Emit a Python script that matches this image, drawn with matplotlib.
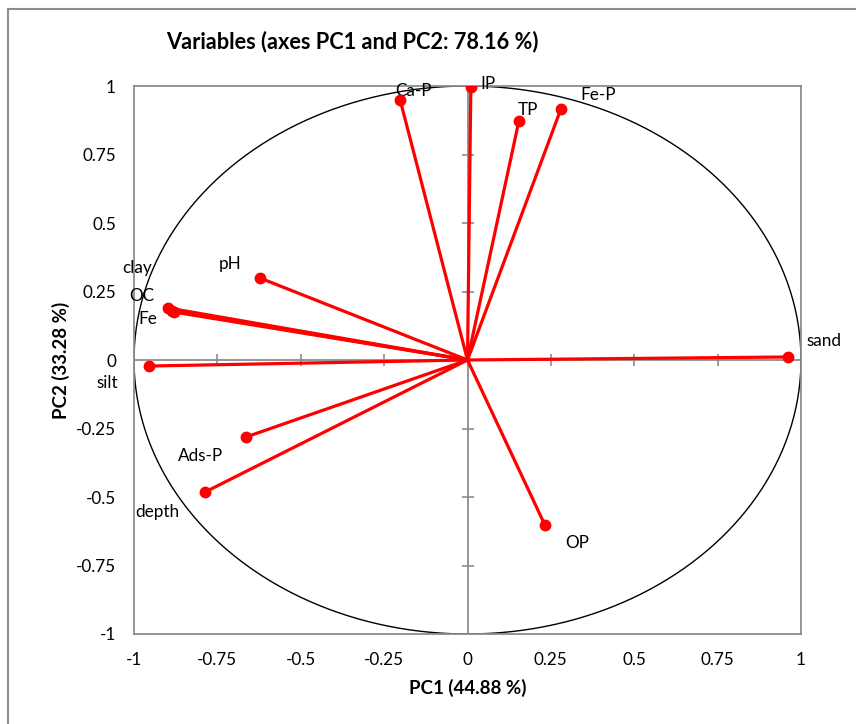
#!/usr/bin/env python3

import numpy as np
import matplotlib.pyplot as plt
from matplotlib.patches import Rectangle

plt.rcParams['font.family'] = ['Lato', 'DejaVu Sans']

names = ['sand', 'silt', 'clay', 'OC', 'Fe', 'pH', 'Ads-P', 'depth',
         'Ca-P', 'IP', 'TP', 'Fe-P', 'OP']
pc1 = [0.961, -0.955, -0.898, -0.885, -0.880, -0.622, -0.664, -0.787,
       -0.202, 0.010, 0.154, 0.280, 0.232]
pc2 = [0.011, -0.022, 0.190, 0.180, 0.175, 0.299, -0.281, -0.482,
       0.949, 0.996, 0.872, 0.916, -0.602]

# label anchors (text centre)
lab_x = [1.07, -1.08, -0.99, -0.976, -0.958, -0.712, -0.80, -0.93,
         -0.163, 0.060, 0.181, 0.392, 0.330]
lab_y = [0.068, -0.085, 0.336, 0.234, 0.150, 0.350, -0.350, -0.555,
         0.982, 1.009, 0.912, 0.967, -0.668]

ticks = [-1, -0.75, -0.5, -0.25, 0, 0.25, 0.5, 0.75, 1]
tick_labels = ['-1', '-0.75', '-0.5', '-0.25', '0', '0.25', '0.5', '0.75', '1']

fig = plt.figure(figsize=(8.56, 7.24), dpi=100)
ax = fig.add_axes([134/856, 1-634/724, (801-134)/856, (634-86)/724])

# outer chart border
fig.patches.append(Rectangle((8/856, -0.1), 1.2, 1.1 - 9/724,
                             transform=fig.transFigure, fill=False,
                             edgecolor='#8c8c8c', linewidth=1.5))

ax.set_xlim(-1, 1)
ax.set_ylim(-1, 1)
for s in ax.spines.values():
    s.set_color('#8c8c8c')
    s.set_linewidth(1.3)

ax.set_xticks(ticks)
ax.set_xticklabels(tick_labels)
ax.set_yticks(ticks)
ax.set_yticklabels(tick_labels)
ax.tick_params(length=0, labelsize=12.3, pad=13)

# centre axes with cross ticks
ax.axhline(0, color='#8c8c8c', linewidth=1.3, zorder=1)
ax.axvline(0, color='#8c8c8c', linewidth=1.3, zorder=1)
inner = [t for t in ticks if t not in (-1, 0, 1)]
ax.plot(inner, [0]*len(inner), linestyle='none', marker='|', markersize=9,
        color='#8c8c8c', markeredgewidth=1.2, zorder=1)
ax.plot([0]*len(inner), inner, linestyle='none', marker='_', markersize=9,
        color='#8c8c8c', markeredgewidth=1.2, zorder=1)

# correlation circle
t = np.linspace(0, 2*np.pi, 400)
ax.plot(np.cos(t), np.sin(t), color='black', linewidth=1, zorder=2)

for x, y in zip(pc1, pc2):
    ax.plot([0, x], [0, y], color='#ff0000', linewidth=2.3, zorder=3)
ax.plot(pc1, pc2, 'o', color='#ff0000', markersize=7.5, zorder=4)

for n, x, y in zip(names, lab_x, lab_y):
    ax.text(x, y, n, ha='center', va='center', fontsize=12.3, clip_on=False)

fig.text(352/856, 1-42/724, 'Variables (axes PC1 and PC2: 78.16 %)',
         ha='center', va='center', fontsize=15.7, fontweight='bold')
ax.set_xlabel('PC1 (44.88 %)', fontsize=13.5, fontweight='bold', labelpad=8)
ax.set_ylabel('PC2 (33.28 %)', fontsize=13.5, fontweight='bold', labelpad=4)

fig.savefig('out.png', dpi=100)
